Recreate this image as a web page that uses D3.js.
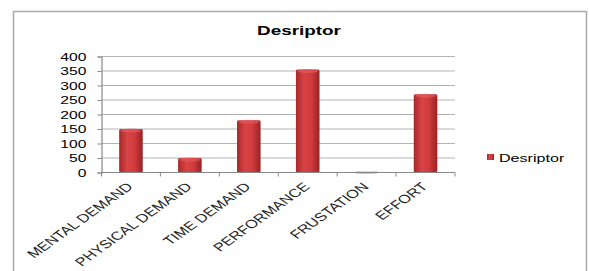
<!DOCTYPE html>
<html>
<head>
<meta charset="utf-8">
<script src="https://cdn.jsdelivr.net/npm/d3@7"></script>
<style>
  body { margin: 0; background: #fff; }
  text { font-family: "Liberation Sans", Arial, sans-serif; }
</style>
</head>
<body>
<svg id="chart" width="589" height="271"></svg>
<script>
var categories = ["MENTAL DEMAND", "PHYSICAL DEMAND", "TIME DEMAND", "PERFORMANCE", "FRUSTATION", "EFFORT"];
var values = [150, 50, 180, 355, 3, 270];
var yTicks = [0, 50, 100, 150, 200, 250, 300, 350, 400];
var seriesName = "Desriptor";

// the original picture is stretched sideways, so text gets a wide scale
var sx = 1.4;

var svg = d3.select("#chart");

// outer frame
svg.append("rect")
    .attr("x", 13.5).attr("y", 11.5)
    .attr("width", 573).attr("height", 275)
    .attr("fill", "#fff")
    .attr("stroke", "#aaa")
    .attr("stroke-width", 1.5);

var plotLeft = 101.5, plotRight = 455, plotTop = 56.5, plotBottom = 172.5;

var x = d3.scaleBand().domain(categories).range([plotLeft, plotRight]).paddingInner(0).paddingOuter(0);
var y = d3.scaleLinear().domain([0, 400]).range([plotBottom, plotTop]);

// gradient for bars
var defs = svg.append("defs");
var grad = defs.append("linearGradient").attr("id", "barGrad")
    .attr("x1", "0%").attr("x2", "100%").attr("y1", "0%").attr("y2", "0%");
grad.append("stop").attr("offset", "0%").attr("stop-color", "#a8282a");
grad.append("stop").attr("offset", "35%").attr("stop-color", "#d84446");
grad.append("stop").attr("offset", "65%").attr("stop-color", "#d03c3e");
grad.append("stop").attr("offset", "100%").attr("stop-color", "#9a2224");

// gridlines
svg.append("g")
    .selectAll("line")
    .data(yTicks.filter(function(d) { return d > 0; }))
    .enter().append("line")
    .attr("x1", plotLeft).attr("x2", plotRight)
    .attr("y1", function(d) { return y(d); })
    .attr("y2", function(d) { return y(d); })
    .attr("stroke", "#b4b4b4")
    .attr("stroke-width", 1.2);

// y axis
var yAxis = svg.append("g")
    .attr("transform", "translate(" + plotLeft + ",0)")
    .call(d3.axisLeft(y).tickValues(yTicks).tickSize(4).tickPadding(11));
yAxis.select(".domain").attr("stroke", "#888").attr("stroke-width", 1.2);
yAxis.selectAll(".tick line").attr("stroke", "#888");
yAxis.selectAll("text")
    .attr("x", -15 / sx)
    .attr("transform", "scale(" + sx + ",1)")
    .attr("font-size", "11.2px").attr("fill", "#000")
    .attr("font-family", "Liberation Sans, Arial, sans-serif");

// bars
var bw = x.bandwidth() * 0.4;
var bars = svg.append("g").selectAll("g.bar")
    .data(values)
    .enter().append("g").attr("class", "bar");

bars.append("rect")
    .attr("x", function(d, i) { return x(categories[i]) + (x.bandwidth() - bw) / 2; })
    .attr("y", function(d) { return y(d); })
    .attr("width", bw)
    .attr("height", function(d) { return plotBottom - y(d); })
    .attr("rx", 1.5)
    .attr("fill", "url(#barGrad)");

bars.append("ellipse")
    .attr("cx", function(d, i) { return x(categories[i]) + x.bandwidth() / 2; })
    .attr("cy", function(d) { return y(d) + 1.5; })
    .attr("rx", bw / 2 - 1)
    .attr("ry", function(d) { return d > 10 ? 2 : 0.5; })
    .attr("fill", "#e05a5c")
    .attr("opacity", 0.7);

// x axis
var xAxis = svg.append("g")
    .attr("transform", "translate(0," + plotBottom + ")");
xAxis.append("line")
    .attr("x1", plotLeft).attr("x2", plotRight)
    .attr("stroke", "#888").attr("stroke-width", 1.2);
xAxis.selectAll("line.tick")
    .data(categories.concat(["end"]))
    .enter().append("line").attr("class", "tick")
    .attr("x1", function(d, i) { return plotLeft + i * x.bandwidth(); })
    .attr("x2", function(d, i) { return plotLeft + i * x.bandwidth(); })
    .attr("y1", 0).attr("y2", 4)
    .attr("stroke", "#888");
xAxis.selectAll("text")
    .data(categories)
    .enter().append("text")
    .attr("transform", function(d) {
        return "translate(" + (x(d) + x.bandwidth() / 2 + 3) + ",15) scale(" + sx + ",1) rotate(-45)";
    })
    .attr("text-anchor", "end")
    .attr("font-size", "11.8px")
    .attr("fill", "#222")
    .text(function(d) { return d; });

// title
svg.append("text")
    .attr("transform", "translate(299,35) scale(" + sx + ",1)")
    .attr("text-anchor", "middle")
    .attr("font-size", "13.5px")
    .attr("font-weight", "bold")
    .text(seriesName);

// legend
var legend = svg.append("g").attr("transform", "translate(487,154)");
legend.append("rect")
    .attr("width", 7).attr("height", 6)
    .attr("fill", "url(#barGrad)");
legend.append("text")
    .attr("transform", "translate(12,7.5) scale(" + sx + ",1)")
    .attr("font-size", "11.5px")
    .text(seriesName);
</script>
</body>
</html>
